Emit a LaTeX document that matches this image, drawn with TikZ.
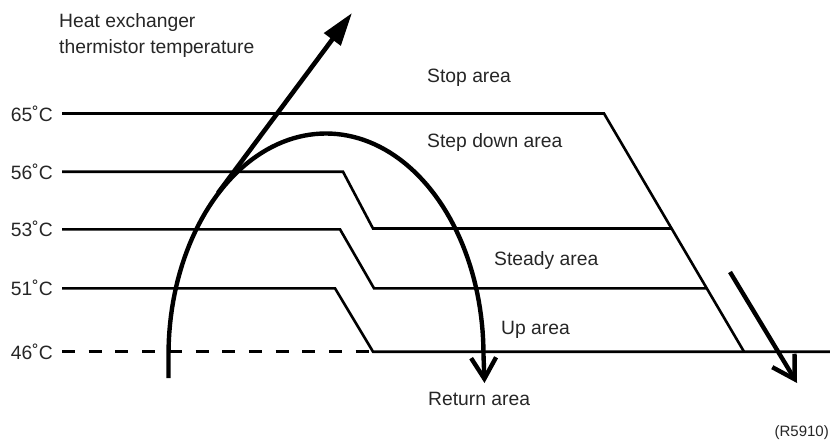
\documentclass[tikz,border=0pt]{standalone}
\usepackage{fontspec}
\setmainfont{Liberation Sans}
\usetikzlibrary{arrows.meta}
\begin{document}
\begin{tikzpicture}[x=1pt,y=-1pt,
  level/.style={line width=2.6pt},
  bigline/.style={line width=4.4pt},
  txt/.style={inner sep=0pt, font=\fontsize{19.3}{23}\selectfont, anchor=base west, text=black!85},
  deg/.style={inner sep=0pt, font=\fontsize{19.3}{23}\selectfont, anchor=east, text=black!85},
  barbhead/.style={-{Straight Barb[length=21pt,width=25pt]}},
]
\useasboundingbox (0,0) rectangle (830,441);
% temperature levels
\node[deg] (l65) at (53,113.5) {65˚C};
\node[deg] (l56) at (53,171.7) {56˚C};
\node[deg] (l53) at (53,229.3) {53˚C};
\node[deg] (l51) at (53,288.3) {51˚C};
\node[deg] (l46) at (53,351.7) {46˚C};
% level lines
\draw[level] (62,113.5) -- (604,113.5) -- (744,351.7);
\draw[level] (62,171.7) -- (343,171.7) -- (373,228.5) -- (671.5,228.5);
\draw[level] (62,229.3) -- (340,229.3) -- (374,288.3) -- (706.5,288.3);
\draw[level] (62,288.3) -- (335,288.3) -- (373,351.7) -- (830,351.7);
\draw[level, dash pattern=on 13pt off 13.7pt] (62,351.7) -- (373,351.7);
% texts
\node[txt] (hx1) at (59,27.3) {Heat exchanger};
\node[txt] (hx2) at (59,53.3) {thermistor temperature};
\node[txt] (stop) at (427,83) {Stop area};
\node[txt] (stepdown) at (427,147.7) {Step down area};
\node[txt] (steady) at (494,265.5) {Steady area};
\node[txt] (up) at (501,334) {Up area};
\node[txt] (ret) at (428,405) {Return area};
\node[inner sep=0pt, font=\fontsize{15}{18}\selectfont, anchor=base east, text=black!85] (code) at (829,436) {(R5910)};
% big arc
\draw[bigline, barbhead] (168.5,378) -- (168.5,355) -- plot[domain=180:0, samples=91] ({326+157.5*cos(\x)},{355-221.5*sin(\x)}) -- (484.5,383);
% rising arrow
\coordinate (rs) at (218,193);
\coordinate (re) at (352,13);
\draw[line width=4.6pt, -{Triangle[length=33pt,width=20pt]}] (rs) -- (re);
% falling arrow
\coordinate (fs) at (730,272);
\coordinate (fe) at (797,383);
\draw[bigline, -{Straight Barb[length=22pt,width=26pt]}] (fs) -- (fe);
\end{tikzpicture}
\end{document}
